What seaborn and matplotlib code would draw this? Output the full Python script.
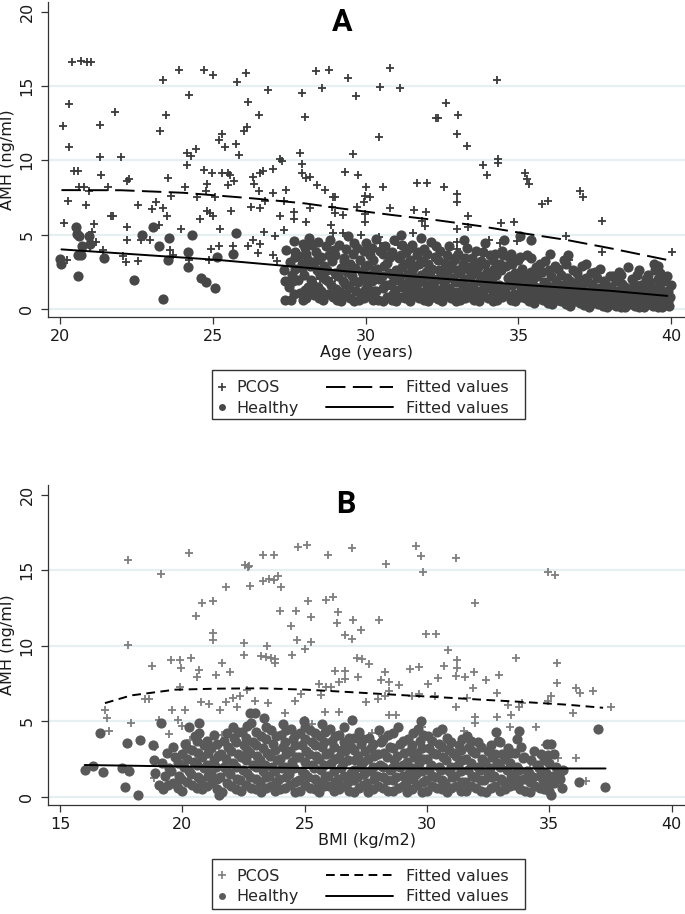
import matplotlib
matplotlib.use("Agg")
import matplotlib.pyplot as plt
from matplotlib.lines import Line2D
from matplotlib.patches import Rectangle
import seaborn as sns

sns.set_style("white")
plt.rcParams["font.family"] = ["DejaVu Sans"]

# ─── DATA: panel A (age) ─────────────────────────────────────────────────────
a_pcos = [
    (20.09, 12.33), (20.29, 10.9), (20.3, 13.8), (20.4, 16.58), (20.69, 16.7), (20.87, 16.64),
    (21.0, 16.58), (21.3, 12.36), (21.3, 10.24), (21.79, 13.27), (22.0, 10.24), (23.26, 12.0),
    (23.36, 15.42), (23.47, 13.02), (23.89, 16.04), (24.21, 14.42), (24.16, 10.49), (24.29, 10.29),
    (24.43, 10.78), (24.71, 16.04), (25.0, 15.73), (25.3, 11.78), (25.21, 11.36), (25.39, 10.89),
    (25.76, 11.11), (25.86, 10.33), (25.8, 15.29), (26.07, 15.84), (26.16, 13.93), (26.11, 12.24),
    (26.0, 11.96), (26.5, 13.02), (26.81, 14.76), (27.21, 10.1), (27.9, 14.51), (28.0, 12.89),
    (27.84, 10.49), (28.36, 16.0), (28.56, 14.84), (28.81, 16.04), (29.41, 15.51), (29.69, 14.31),
    (29.59, 10.44), (30.46, 14.91), (30.44, 11.56), (30.79, 16.2), (31.13, 14.89), (32.29, 12.82),
    (32.37, 12.82), (32.64, 13.82), (33.01, 13.02), (32.99, 11.76), (33.31, 10.93), (34.31, 15.42),
    (34.33, 10.1),
    (20.45, 9.29), (20.58, 9.29), (20.6, 8.21), (20.77, 8.21), (20.93, 7.9), (21.35, 9.02),
    (21.55, 8.21), (20.24, 7.28), (20.84, 6.99), (20.14, 5.76), (21.11, 5.71), (21.04, 5.18),
    (21.18, 4.49), (20.99, 4.15), (21.4, 3.93), (20.22, 3.3), (22.25, 8.73), (22.2, 8.57),
    (21.65, 6.27), (21.74, 6.27), (22.56, 6.99), (22.19, 5.49), (22.19, 4.6), (22.05, 3.53),
    (22.14, 3.15), (22.54, 3.19), (22.63, 4.6), (22.93, 4.64), (23.0, 6.7), (23.13, 7.21),
    (23.37, 6.76), (23.48, 6.23), (23.64, 7.57), (23.53, 8.79), (23.24, 5.65), (23.59, 3.93),
    (23.68, 3.59), (23.96, 5.36), (24.1, 8.17), (24.16, 9.67), (24.47, 7.54), (24.56, 6.05),
    (24.69, 9.33), (24.82, 8.39), (24.98, 9.17), (24.76, 7.95), (24.82, 6.61), (24.91, 6.43),
    (25.05, 7.54), (24.99, 6.23), (25.22, 5.38), (25.2, 4.26), (24.92, 4.06), (24.87, 3.26),
    (24.23, 3.26), (25.3, 9.17), (25.49, 9.17), (25.55, 9.02), (25.49, 8.33), (25.69, 8.62),
    (25.58, 6.56), (25.64, 4.26), (26.3, 8.84), (26.35, 8.39), (26.54, 9.13), (26.65, 9.29),
    (26.96, 9.4), (27.26, 9.96), (26.49, 7.9), (26.98, 7.79), (27.4, 8.01), (26.7, 7.23),
    (26.26, 6.83), (26.54, 6.79), (27.34, 7.23), (27.2, 6.23), (27.64, 6.5), (27.66, 6.03),
    (27.31, 5.31), (26.67, 5.16), (27.03, 4.91), (26.32, 4.64), (26.54, 4.33), (26.48, 3.75),
    (26.14, 4.26), (26.98, 3.64), (27.09, 3.19), (27.9, 9.78), (27.9, 9.17), (28.05, 8.79),
    (28.19, 8.84), (28.41, 8.33), (28.68, 7.99), (28.93, 7.54), (28.99, 7.5), (28.19, 6.79),
    (28.03, 5.83), (28.87, 5.67), (28.93, 5.11), (28.88, 6.83), (29.24, 6.32), (29.32, 9.22),
    (29.76, 9.0), (29.73, 6.88), (29.26, 5.09), (29.84, 5.0), (28.98, 6.43),
    (33.83, 9.69), (33.96, 9.02), (34.33, 9.84), (35.22, 9.11), (35.27, 8.73), (35.33, 8.39),
    (30.0, 8.21), (30.57, 8.17), (29.97, 7.61), (30.13, 7.54), (29.93, 7.17), (31.68, 8.5),
    (32.01, 8.5), (32.56, 8.17), (33.0, 7.72), (32.98, 7.17), (30.79, 6.76), (31.58, 6.67),
    (31.97, 6.5), (31.83, 5.94), (31.94, 5.6), (29.97, 6.38), (29.97, 5.83), (33.36, 6.27),
    (32.98, 5.38), (33.36, 5.49), (31.55, 5.09), (30.44, 4.82), (30.48, 4.44), (31.06, 4.31),
    (32.98, 4.53), (32.98, 4.04), (34.02, 4.6), (34.4, 4.42), (34.42, 5.78), (34.84, 5.87),
    (34.95, 4.55), (35.77, 7.05), (35.96, 7.28), (37.02, 7.9), (37.11, 7.5), (37.74, 5.89),
    (36.56, 4.93), (37.74, 3.82), (36.64, 3.3), (40.03, 3.82), (33.41, 2.81), (34.45, 2.92),
    (30.9, 1.36), (28.5, 2.0), (31.5, 3.0), (35.5, 1.5), (38.5, 1.0), (29.0, 2.1),
]

a_healthy = [
    (20.52, 5.49), (20.54, 5.04), (20.6, 4.87), (20.93, 4.87), (20.71, 4.22), (20.58, 3.64),
    (20.69, 3.59), (20.0, 3.37), (20.03, 2.99), (20.58, 2.21), (21.43, 3.42), (20.99, 4.37),
    (22.42, 1.96), (22.69, 5.0), (23.04, 5.49), (23.24, 4.26), (23.57, 4.78), (23.35, 0.67),
    (23.52, 3.3), (24.18, 3.82), (24.18, 2.81), (24.32, 5.0), (24.62, 2.1), (24.78, 1.81),
    (25.05, 1.43), (25.13, 3.48), (25.66, 3.71), (25.75, 5.09), (27.36, 0.58), (27.4, 3.93),
    (27.32, 2.59), (27.36, 1.88), (27.64, 4.55),
    (27.55, 0.62), (27.48, 1.45), (27.6, 2.3), (27.52, 3.15), (27.7, 3.85),
    (27.85, 1.05), (27.78, 1.92), (27.9, 2.72), (27.82, 3.55), (27.95, 4.35),
    (28.05, 0.7), (28.12, 1.5), (27.98, 2.25), (28.1, 3.3), (28.02, 4.1), (28.15, 4.75),
    (28.32, 0.9), (28.25, 1.72), (28.4, 2.6), (28.28, 3.05), (28.36, 3.82), (28.45, 4.5),
    (28.6, 0.58), (28.55, 1.22), (28.68, 2.02), (28.62, 2.88), (28.52, 3.5), (28.7, 4.2),
    (28.92, 0.82), (28.85, 1.62), (28.98, 2.4), (28.88, 3.22), (28.95, 3.98), (28.82, 4.62),
    (29.2, 0.52), (29.15, 1.12), (29.25, 1.9), (29.18, 2.78), (29.28, 3.42), (29.12, 4.3),
    (29.5, 0.7), (29.45, 1.4), (29.55, 2.2), (29.48, 3.02), (29.58, 3.7), (29.42, 4.88),
    (29.78, 0.6), (29.85, 1.02), (29.75, 1.8), (29.88, 2.5), (29.8, 3.3), (29.72, 4.1),
    (30.12, 0.88), (30.05, 1.52), (30.18, 2.3), (30.08, 2.92), (30.15, 3.6), (30.02, 4.45),
    (30.4, 0.62), (30.35, 1.2), (30.45, 2.02), (30.38, 2.7), (30.48, 3.9), (30.32, 4.7),
    (30.7, 0.8), (30.65, 1.6), (30.75, 2.42), (30.68, 3.1), (30.78, 3.5), (30.62, 4.22),
    (31.0, 0.52), (30.95, 1.3), (31.05, 1.92), (30.98, 2.6), (31.08, 3.4), (30.92, 4.6), (31.15, 5.0),
    (31.3, 0.7), (31.35, 1.02), (31.25, 1.7), (31.38, 2.32), (31.28, 3.0), (31.32, 3.8),
    (31.6, 0.9), (31.55, 1.5), (31.65, 2.1), (31.58, 2.8), (31.68, 3.6), (31.52, 4.3),
    (31.9, 0.6), (31.95, 1.22), (31.85, 2.0), (31.98, 2.5), (31.88, 3.2), (31.92, 4.0), (31.82, 4.8),
    (32.2, 0.8), (32.15, 1.4), (32.25, 1.82), (32.18, 2.7), (32.28, 3.5), (32.12, 4.5),
    (32.5, 0.52), (32.45, 1.1), (32.55, 1.6), (32.48, 2.3), (32.58, 3.1), (32.42, 3.9),
    (32.8, 0.7), (32.75, 1.3), (32.85, 2.1), (32.78, 2.9), (32.88, 3.3), (32.72, 4.2),
    (33.1, 0.6), (33.05, 1.02), (33.15, 1.7), (33.08, 2.4), (33.18, 3.0), (33.02, 3.7), (33.2, 4.6),
    (33.4, 0.8), (33.35, 1.5), (33.45, 2.2), (33.38, 2.6), (33.48, 3.4), (33.32, 4.1),
    (33.7, 0.52), (33.65, 1.2), (33.75, 1.9), (33.68, 2.8), (33.78, 3.2), (33.62, 3.9),
    (34.0, 0.7), (33.95, 1.4), (34.05, 2.0), (33.98, 2.5), (34.08, 3.6), (33.92, 4.4),
    (34.3, 0.6), (34.25, 1.1), (34.35, 1.6), (34.28, 2.3), (34.38, 3.0), (34.22, 3.7),
    (34.6, 0.9), (34.55, 1.3), (34.65, 2.1), (34.58, 2.9), (34.68, 3.5), (34.52, 4.6),
    (34.9, 0.52), (34.85, 1.02), (34.95, 1.8), (34.88, 2.4), (34.98, 3.3), (35.05, 4.9),
    (35.2, 0.7), (35.15, 1.2), (35.25, 1.7), (35.18, 2.2), (35.28, 3.6), (35.4, 4.6),
    (35.5, 0.4), (35.45, 0.9), (35.55, 1.5), (35.48, 2.0), (35.58, 2.8), (35.42, 3.4),
    (35.8, 0.6), (35.75, 1.1), (35.85, 1.8), (35.78, 2.5), (35.88, 3.2),
    (36.1, 0.3), (36.05, 0.8), (36.15, 1.4), (36.08, 2.2), (36.18, 2.9), (36.02, 3.7),
    (36.4, 0.5), (36.35, 1.02), (36.45, 1.6), (36.38, 2.3), (36.48, 3.3),
    (36.7, 0.2), (36.65, 0.7), (36.75, 1.2), (36.68, 1.9), (36.78, 2.6), (36.62, 3.6),
    (37.0, 0.4), (36.95, 0.9), (37.05, 1.5), (36.98, 2.0), (37.08, 2.9),
    (37.3, 0.12), (37.25, 0.6), (37.35, 1.1), (37.28, 1.8), (37.38, 2.4), (37.22, 3.0),
    (37.6, 0.3), (37.55, 0.8), (37.65, 1.4), (37.58, 2.1), (37.68, 2.7),
    (37.9, 0.1), (37.85, 0.5), (37.95, 1.02), (37.88, 1.6), (37.98, 2.2),
    (38.2, 0.2), (38.15, 0.7), (38.25, 1.2), (38.18, 1.9), (38.28, 2.5),
    (38.5, 0.1), (38.45, 0.4), (38.55, 0.9), (38.48, 1.5), (38.58, 2.8),
    (38.8, 0.2), (38.75, 0.6), (38.85, 1.1), (38.78, 1.7), (38.88, 2.3),
    (39.1, 0.1), (39.05, 0.5), (39.15, 0.8), (39.08, 1.4), (39.18, 2.0),
    (39.4, 0.2), (39.35, 0.6), (39.45, 1.02), (39.38, 1.5), (39.48, 2.6), (39.42, 3.0),
    (39.7, 0.1), (39.65, 0.4), (39.75, 0.9), (39.68, 1.3), (39.78, 1.9), (39.62, 2.4),
    (39.92, 0.2), (39.88, 0.5), (39.95, 0.82), (39.9, 1.2), (39.98, 1.6), (39.85, 2.2),
]

a_healthy_more = [
    (27.65, 1.0), (27.62, 1.85), (27.7, 2.7), (27.68, 3.5),
    (27.95, 0.62), (28.0, 1.3), (27.92, 3.0), (28.05, 3.7),
    (28.2, 1.1), (28.22, 1.95), (28.18, 2.9), (28.25, 4.3),
    (28.48, 0.7), (28.45, 1.5), (28.5, 2.3), (28.42, 3.3),
    (28.75, 1.0), (28.78, 1.85), (28.72, 2.6), (28.8, 3.6),
    (29.05, 0.6), (29.02, 1.35), (29.08, 2.2), (29.0, 3.6),
    (29.35, 0.9), (29.32, 1.65), (29.38, 2.5), (29.3, 3.2), (29.35, 4.0),
    (29.62, 0.55), (29.68, 1.2), (29.6, 1.9), (29.65, 2.75), (29.62, 4.4),
    (29.95, 0.75), (29.98, 1.3), (29.92, 2.1), (29.98, 2.8), (29.95, 3.9),
    (30.25, 0.6), (30.28, 1.2), (30.22, 1.9), (30.3, 2.6), (30.25, 3.3), (30.2, 4.1),
    (30.55, 0.55), (30.58, 1.4), (30.52, 2.2), (30.6, 2.9), (30.55, 3.7),
    (30.85, 0.62), (30.88, 1.0), (30.82, 1.7), (30.9, 2.2), (30.85, 3.8),
    (31.15, 0.8), (31.18, 1.5), (31.12, 2.2), (31.2, 2.8), (31.15, 3.6), (31.18, 4.3),
    (31.45, 0.55), (31.48, 1.3), (31.42, 1.9), (31.5, 2.6), (31.45, 3.3), (31.45, 4.1),
    (31.75, 0.7), (31.78, 1.1), (31.72, 1.75), (31.8, 2.3), (31.75, 3.0), (31.7, 3.8),
    (32.05, 0.55), (32.08, 1.0), (32.02, 1.6), (32.1, 2.2), (32.05, 3.0), (32.0, 3.7),
    (32.35, 0.65), (32.38, 1.25), (32.32, 2.0), (32.4, 2.6), (32.35, 3.3), (32.3, 4.2),
    (32.65, 0.9), (32.68, 1.4), (32.62, 2.0), (32.7, 2.6), (32.65, 3.6),
    (32.95, 0.52), (32.98, 1.1), (32.92, 1.8), (33.0, 2.6), (32.95, 3.5),
    (33.25, 0.7), (33.28, 1.3), (33.22, 2.0), (33.3, 2.8), (33.25, 3.4),
    (33.55, 0.6), (33.58, 1.05), (33.52, 1.7), (33.6, 2.4), (33.55, 3.0),
    (33.85, 0.9), (33.88, 1.6), (33.82, 2.2), (33.9, 3.0), (33.85, 3.8),
    (34.15, 0.55), (34.18, 1.2), (34.12, 1.8), (34.2, 2.7), (34.15, 3.3),
    (34.45, 0.8), (34.48, 1.45), (34.42, 2.6), (34.5, 3.6), (34.45, 3.9),
    (34.75, 0.6), (34.78, 1.6), (34.72, 2.2), (34.8, 3.0), (34.75, 3.7),
    (35.05, 0.8), (35.08, 1.4), (35.02, 2.0), (35.1, 2.7), (35.05, 3.5),
    (35.35, 0.55), (35.38, 1.1), (35.32, 1.9), (35.4, 2.5),
    (35.65, 0.7), (35.68, 1.4), (35.62, 2.2), (35.7, 3.0),
    (35.95, 0.4), (35.98, 1.0), (35.92, 1.6), (36.0, 2.6),
    (36.25, 0.6), (36.28, 1.2), (36.22, 1.9), (36.3, 2.7),
    (36.55, 0.35), (36.58, 0.9), (36.52, 1.45), (36.6, 2.1), (36.55, 3.0),
    (36.85, 0.5), (36.88, 1.1), (36.82, 1.7), (36.9, 2.4),
    (37.15, 0.25), (37.18, 0.8), (37.12, 1.3), (37.2, 2.1),
    (37.45, 0.4), (37.48, 1.0), (37.42, 1.6), (37.5, 2.5),
    (37.75, 0.2), (37.78, 0.65), (37.72, 1.2), (37.8, 1.9),
    (38.05, 0.35), (38.08, 0.9), (38.02, 1.5), (38.1, 2.2),
    (38.35, 0.15), (38.38, 0.6), (38.32, 1.05), (38.4, 1.7), (38.35, 2.3),
    (38.65, 0.3), (38.68, 0.8), (38.62, 1.3), (38.7, 2.0),
    (38.95, 0.15), (38.98, 0.45), (38.92, 0.95), (39.0, 1.6), (38.95, 2.6),
    (39.25, 0.3), (39.28, 0.75), (39.22, 1.2), (39.3, 1.8), (39.25, 2.3),
    (39.55, 0.15), (39.58, 0.5), (39.52, 0.85), (39.6, 1.5), (39.55, 2.0), (39.55, 2.9),
]

a_fit_pcos_x = [20.04, 22.0, 24.03, 26.32, 28.03, 29.17, 30.88, 32.31, 33.74, 35.17, 36.59, 38.02, 39.87]
a_fit_pcos_y = [7.99, 7.98, 7.81, 7.43, 7.09, 6.76, 6.31, 5.97, 5.57, 5.08, 4.63, 4.07, 3.29]
a_fit_healthy_x = [20.04, 25.17, 29.45, 32.31, 35.17, 38.02, 39.87]
a_fit_healthy_y = [4.0, 3.29, 2.51, 2.06, 1.61, 1.21, 0.87]

# ─── DATA: panel B (BMI) ─────────────────────────────────────────────────────
b_pcos = [
    (17.76, 15.7), (19.13, 14.78), (20.26, 16.15), (22.54, 15.37), (22.72, 15.3), (22.69, 15.2),
    (23.31, 15.99), (23.74, 15.99), (23.31, 14.27), (23.53, 14.43), (23.76, 14.38), (23.92, 14.6),
    (22.76, 13.96), (21.78, 13.87), (24.01, 13.87), (24.74, 16.56), (25.08, 16.67), (25.94, 15.99),
    (26.94, 16.48), (28.33, 15.44), (29.56, 16.59), (29.74, 15.97), (29.85, 14.87), (31.17, 15.81),
    (31.95, 12.84), (34.93, 14.87), (35.23, 14.71), (20.8, 12.8), (21.24, 12.95), (25.15, 12.97),
    (25.85, 13.0), (26.15, 13.24),
    (20.55, 11.95), (24.0, 12.28), (24.65, 12.32), (25.27, 11.9), (24.44, 11.28), (26.36, 12.21),
    (26.3, 11.5), (26.96, 11.73), (26.64, 10.73), (26.94, 10.44), (27.32, 11.06), (24.69, 10.4),
    (25.03, 9.78), (25.27, 10.22), (21.23, 10.84), (21.24, 10.35), (22.5, 10.18), (22.5, 9.36),
    (23.46, 10.0), (23.2, 9.29), (23.4, 9.25), (23.6, 9.18), (23.8, 9.11), (23.8, 8.85),
    (24.48, 9.4), (17.77, 10.07), (18.75, 8.69), (19.54, 9.03), (19.88, 9.03), (20.36, 9.18),
    (19.95, 8.52), (20.69, 8.41), (20.59, 7.96), (21.37, 8.08), (21.62, 8.89), (21.96, 8.23),
    (19.88, 7.3), (18.48, 6.46), (18.62, 6.46), (16.84, 5.75), (16.91, 5.2), (17.0, 4.36),
    (17.91, 4.91), (19.02, 5.09), (19.57, 5.75), (20.09, 5.75), (19.82, 5.09), (19.98, 4.71),
    (19.43, 4.16), (20.77, 6.26), (21.07, 6.15), (21.55, 5.75), (21.78, 6.26), (22.07, 6.57),
    (22.37, 6.64), (22.23, 5.93), (22.98, 6.31), (23.5, 6.24), (22.64, 7.04), (20.29, 3.76),
    (20.66, 3.72), (21.37, 3.58), (21.48, 2.99), (21.62, 4.09), (24.21, 5.53), (25.0, 5.09),
    (25.3, 4.8), (24.86, 6.81), (24.62, 6.31), (25.6, 7.48), (25.87, 7.3), (26.09, 7.3),
    (25.68, 6.75), (25.82, 5.64), (26.39, 5.64), (26.25, 8.3), (26.66, 8.36), (26.39, 7.57),
    (26.66, 7.79), (27.18, 7.92), (27.14, 9.18), (27.35, 9.11), (18.89, 3.32), (18.82, 1.22),
    (27.32, 1.15),
    (28.02, 11.73), (29.96, 10.8), (30.37, 10.8), (30.85, 9.73), (27.61, 8.81), (28.29, 8.25),
    (29.3, 8.45), (29.66, 8.58), (30.71, 8.67), (31.22, 9.03), (31.22, 8.52), (31.19, 8.01),
    (31.57, 7.96), (31.94, 8.23), (32.42, 7.7), (32.94, 8.08), (33.65, 9.18), (35.31, 8.85),
    (35.31, 7.52), (28.11, 7.74), (28.43, 7.57), (28.84, 7.37), (30.03, 7.46), (30.44, 7.85),
    (31.87, 7.21), (28.43, 6.97), (27.5, 6.26), (27.98, 6.46), (28.29, 6.64), (29.39, 6.68),
    (29.66, 6.81), (30.34, 6.7), (31.63, 6.53), (31.19, 5.91), (32.86, 6.9), (33.31, 6.08),
    (33.76, 5.97), (33.89, 6.19), (34.95, 6.31), (35.05, 6.68), (36.08, 7.23), (36.24, 6.86),
    (36.79, 6.97), (35.97, 5.53), (37.54, 5.91), (28.46, 5.38), (28.73, 5.38), (31.98, 5.31),
    (31.98, 4.87), (32.86, 5.31), (33.44, 5.42), (33.4, 4.6), (34.47, 4.6), (31.53, 4.38),
    (27.77, 4.25), (28.05, 4.2), (29.8, 4.65), (34.81, 3.43), (33.17, 3.05), (35.36, 2.59),
    (36.08, 2.59), (36.49, 1.04), (34.22, 1.92), (30.85, 3.58),
]

b_healthy = [
    (16.02, 1.77), (16.36, 2.04), (16.73, 1.66), (16.64, 4.2), (17.52, 1.88), (17.8, 1.7),
    (17.73, 3.58), (18.27, 3.76), (18.78, 3.43), (19.13, 4.91), (17.66, 0.62), (18.18, 0.11),
    (21.48, 0.11), (20.25, 4.65), (20.69, 4.91), (20.69, 4.25), (36.99, 4.47), (37.27, 0.66),
    (36.22, 1.0), (35.08, 0.11), (35.08, 3.5), (34.95, 2.77), (35.4, 1.44), (33.76, 4.38),
    (33.92, 2.54), (22.78, 5.53), (22.95, 5.53), (29.75, 5.0), (18.82, 2.43), (18.89, 1.55),
    (19.02, 0.77),
    (19.2, 0.5), (19.3, 1.4), (19.15, 2.2), (19.35, 2.9),
    (19.6, 0.9), (19.55, 1.7), (19.7, 2.6), (19.62, 3.3),
    (20.0, 0.4), (19.95, 1.2), (20.08, 2.0), (19.98, 2.8), (20.1, 3.5),
    (20.4, 0.8), (20.35, 1.5), (20.48, 2.3), (20.38, 3.1), (20.5, 4.0),
    (20.8, 0.5), (20.75, 1.1), (20.88, 1.9), (20.78, 2.6), (20.9, 3.4),
    (21.2, 0.9), (21.15, 1.6), (21.28, 2.4), (21.18, 3.2), (21.3, 4.1),
    (21.6, 0.3), (21.55, 1.3), (21.68, 2.0), (21.58, 2.8), (21.7, 3.7),
    (22.0, 0.7), (21.95, 1.5), (22.08, 2.2), (21.98, 3.0), (22.1, 3.9), (22.05, 4.6),
    (22.4, 0.4), (22.35, 1.1), (22.48, 1.8), (22.38, 2.6), (22.5, 3.4), (22.42, 4.3),
    (22.8, 0.6), (22.75, 1.3), (22.88, 2.1), (22.78, 2.9), (22.9, 3.6), (22.82, 4.9),
    (23.2, 0.3), (23.15, 1.0), (23.28, 1.7), (23.18, 2.4), (23.3, 3.2), (23.22, 4.0), (23.35, 5.2),
    (23.6, 0.7), (23.55, 1.4), (23.68, 2.0), (23.58, 2.7), (23.7, 3.5), (23.62, 4.4),
    (24.0, 0.5), (23.95, 1.2), (24.08, 1.9), (23.98, 2.5), (24.1, 3.3), (24.02, 4.1), (24.12, 4.8),
    (24.4, 0.8), (24.35, 1.5), (24.48, 2.3), (24.38, 3.0), (24.5, 3.8), (24.42, 4.5),
    (24.8, 0.4), (24.75, 1.1), (24.88, 1.7), (24.78, 2.6), (24.9, 3.4), (24.82, 4.2), (24.95, 5.0),
    (25.2, 0.6), (25.15, 1.3), (25.28, 2.1), (25.18, 2.8), (25.3, 3.6), (25.22, 4.4),
    (25.6, 0.3), (25.55, 1.0), (25.68, 1.8), (25.58, 2.5), (25.7, 3.3), (25.62, 4.0), (25.72, 4.8),
    (26.0, 0.7), (25.95, 1.4), (26.08, 2.2), (25.98, 2.9), (26.1, 3.7), (26.02, 4.5),
    (26.4, 0.5), (26.35, 1.2), (26.48, 1.9), (26.38, 2.6), (26.5, 3.1), (26.42, 4.1),
    (26.8, 0.4), (26.75, 1.0), (26.88, 1.6), (26.78, 2.4), (26.9, 3.3), (26.82, 3.9), (26.95, 5.1),
    (27.2, 0.6), (27.15, 1.3), (27.28, 2.0), (27.18, 2.7), (27.3, 3.5), (27.22, 4.3),
    (27.6, 0.3), (27.55, 0.9), (27.68, 1.7), (27.58, 2.5), (27.7, 3.2), (27.62, 3.9),
    (28.0, 0.7), (27.95, 1.4), (28.08, 2.1), (27.98, 2.8), (28.1, 3.6), (28.02, 4.4),
    (28.4, 0.4), (28.35, 1.1), (28.48, 1.8), (28.38, 2.6), (28.5, 3.3), (28.42, 4.1),
    (28.8, 0.6), (28.75, 1.3), (28.88, 2.0), (28.78, 2.7), (28.9, 3.5), (28.82, 4.6),
    (29.2, 0.3), (29.15, 1.0), (29.28, 1.6), (29.18, 2.3), (29.3, 3.0), (29.22, 3.8),
    (29.6, 0.8), (29.55, 1.5), (29.68, 2.2), (29.58, 2.9), (29.7, 3.7), (29.62, 4.5),
    (30.0, 0.4), (29.95, 1.1), (30.08, 1.8), (29.98, 2.5), (30.1, 3.2), (30.02, 4.0),
    (30.4, 0.6), (30.35, 1.3), (30.48, 2.0), (30.38, 2.8), (30.5, 3.5), (30.42, 4.3),
    (30.8, 0.3), (30.75, 0.9), (30.88, 1.7), (30.78, 2.4), (30.9, 3.1), (30.82, 3.9),
    (31.2, 0.7), (31.15, 1.4), (31.28, 2.1), (31.18, 2.7), (31.3, 3.4),
    (31.6, 0.4), (31.55, 1.0), (31.68, 1.8), (31.58, 2.5), (31.7, 3.3), (31.62, 4.0),
    (32.0, 0.6), (31.95, 1.3), (32.08, 2.0), (31.98, 2.9), (32.1, 3.6),
    (32.4, 0.3), (32.35, 1.1), (32.48, 1.6), (32.38, 2.3), (32.5, 3.0),
    (32.8, 0.7), (32.75, 1.4), (32.88, 2.2), (32.78, 2.8), (32.9, 3.7), (32.82, 4.3),
    (33.2, 0.5), (33.15, 1.0), (33.28, 1.8), (33.18, 2.5), (33.3, 3.2),
    (33.6, 0.8), (33.55, 1.5), (33.68, 2.0), (33.58, 2.9), (33.7, 3.8),
    (34.0, 0.4), (33.95, 1.2), (34.08, 1.7), (33.98, 2.6),
    (34.4, 0.7), (34.35, 1.3), (34.48, 2.1), (34.38, 3.0),
    (34.8, 0.5), (34.75, 1.1), (34.88, 1.6), (34.78, 2.4), (34.9, 3.5),
    (35.2, 0.9), (35.15, 1.4), (35.28, 2.0), (35.18, 2.8),
    (35.5, 0.6), (35.45, 1.2), (35.58, 1.8),
]

b_healthy_more = [
    (19.4, 0.8), (19.45, 1.9), (19.8, 0.6), (19.85, 1.4), (19.8, 2.2), (20.2, 1.0), (20.25, 1.7),
    (20.2, 2.5), (20.2, 3.2), (20.6, 0.6), (20.65, 1.3), (20.6, 2.1), (20.62, 2.9), (20.6, 3.7),
    (21.0, 0.7), (21.05, 1.4), (21.0, 2.1), (21.05, 2.9), (21.0, 3.7),
    (21.4, 0.5), (21.42, 1.2), (21.38, 2.0), (21.45, 2.7), (21.4, 3.5),
    (21.8, 0.9), (21.82, 1.7), (21.78, 2.5), (21.85, 3.3), (21.8, 4.2),
    (22.2, 0.5), (22.22, 1.2), (22.18, 1.95), (22.25, 2.8), (22.2, 3.6), (22.25, 4.3),
    (22.6, 0.8), (22.62, 1.6), (22.58, 2.4), (22.65, 3.1), (22.6, 3.9), (22.65, 4.7),
    (23.0, 0.5), (23.02, 1.2), (23.0, 1.95), (23.05, 2.7), (23.0, 3.4), (23.0, 4.3),
    (23.4, 0.6), (23.42, 1.3), (23.38, 2.1), (23.45, 2.9), (23.4, 3.8), (23.42, 4.6),
    (23.8, 0.4), (23.82, 1.0), (23.78, 1.7), (23.85, 2.4), (23.8, 3.1), (23.82, 4.0),
    (24.2, 0.6), (24.22, 1.3), (24.18, 2.0), (24.25, 2.8), (24.2, 3.6), (24.22, 4.4),
    (24.6, 0.3), (24.62, 1.0), (24.58, 1.9), (24.65, 2.6), (24.6, 3.4), (24.62, 4.1),
    (25.0, 0.8), (25.02, 1.5), (25.0, 2.3), (25.05, 3.0), (25.0, 3.8), (25.02, 4.6),
    (25.4, 0.5), (25.42, 1.2), (25.38, 1.9), (25.45, 2.7), (25.4, 3.4), (25.42, 4.2),
    (25.8, 0.7), (25.82, 1.3), (25.78, 2.1), (25.85, 2.8), (25.8, 3.6), (25.82, 4.3),
    (26.2, 0.4), (26.22, 1.0), (26.18, 1.7), (26.25, 2.5), (26.2, 3.3), (26.22, 4.0),
    (26.6, 0.7), (26.62, 1.4), (26.58, 2.2), (26.65, 3.0), (26.6, 3.6), (26.62, 4.6),
    (27.0, 0.3), (27.02, 1.1), (27.0, 1.8), (27.05, 2.4), (27.0, 3.1), (27.02, 3.9),
    (27.4, 0.8), (27.42, 1.5), (27.38, 2.3), (27.45, 3.0), (27.4, 3.8),
    (27.8, 0.5), (27.82, 1.2), (27.78, 2.0), (27.85, 2.7), (27.8, 3.5),
    (28.2, 0.6), (28.22, 1.3), (28.18, 2.0), (28.25, 2.9), (28.2, 3.8),
    (28.6, 0.4), (28.62, 1.1), (28.58, 1.9), (28.65, 2.4), (28.6, 3.2), (28.62, 4.2),
    (29.0, 0.7), (29.02, 1.4), (29.0, 2.1), (29.05, 2.9), (29.0, 3.7),
    (29.4, 0.5), (29.42, 1.2), (29.38, 1.9), (29.45, 2.6), (29.4, 3.4), (29.42, 4.2),
    (29.8, 0.3), (29.82, 1.0), (29.78, 1.7), (29.85, 2.5), (29.8, 3.2), (29.82, 4.1),
    (30.2, 0.7), (30.22, 1.4), (30.18, 2.1), (30.25, 2.9), (30.2, 3.7),
    (30.6, 0.5), (30.62, 1.1), (30.58, 1.8), (30.65, 2.6), (30.6, 3.3), (30.62, 4.5),
    (31.0, 0.6), (31.02, 1.3), (31.0, 2.0), (31.05, 2.9), (31.0, 3.6),
    (31.4, 0.4), (31.42, 1.0), (31.38, 1.7), (31.45, 2.4), (31.4, 3.1), (31.42, 3.8),
    (31.8, 0.7), (31.82, 1.4), (31.78, 2.2), (31.85, 3.0), (31.8, 3.7),
    (32.2, 0.4), (32.22, 1.1), (32.18, 1.8), (32.25, 2.5), (32.2, 3.3),
    (32.6, 0.6), (32.62, 1.3), (32.58, 1.9), (32.65, 2.6), (32.6, 3.4),
    (33.0, 0.4), (33.02, 1.2), (33.0, 2.0), (33.05, 2.8), (33.0, 3.6),
    (33.4, 0.7), (33.42, 1.3), (33.38, 2.2), (33.45, 2.9),
    (33.8, 0.5), (33.82, 1.1), (33.78, 1.8), (33.85, 3.3),
    (34.2, 0.3), (34.22, 1.0), (34.18, 1.6), (34.25, 2.4),
    (34.6, 0.6), (34.62, 1.4), (34.58, 1.9), (34.65, 2.8),
    (35.0, 0.4), (35.02, 1.0), (35.0, 2.2),
]

b_fit_pcos_x = [16.83, 17.9, 19.69, 21.48, 23.27, 25.05, 26.84, 28.63, 30.41, 32.2, 33.99, 35.77, 37.2]
b_fit_pcos_y = [6.2, 6.71, 7.09, 7.16, 7.18, 7.09, 6.93, 6.76, 6.6, 6.43, 6.27, 6.09, 5.89]
b_fit_healthy_x = [16.0, 20.0, 25.0, 30.0, 35.0, 37.3]
b_fit_healthy_y = [2.1, 2.0, 1.9, 1.87, 1.87, 1.87]

y_ticks = [0, 5, 10, 15, 20]
a_x_ticks = [20, 25, 30, 35, 40]
b_x_ticks = [15, 20, 25, 30, 35, 40]

# ─── FIGURE ──────────────────────────────────────────────────────────────────
W, H = 685, 914
FS = 11.5
fig = plt.figure(figsize=(W / 100, H / 100), dpi=100, facecolor="white")

def px_axes(x0, y0, x1, y1):
    return fig.add_axes([x0 / W, 1 - y1 / H, (x1 - x0) / W, (y1 - y0) / H])

ax_a = px_axes(48, 2, 685, 317)
ax_b = px_axes(48, 485, 685, 805)


def draw_panel(ax, pcos, healthy, fit_p, fit_h, pcos_color, healthy_color,
               dash, xlim, xticks, xlabel, title, title_xy, box_y, rows_y, ax_px):
    # grid lines (not at the top tick)
    for yv in y_ticks[:-1]:
        ax.axhline(yv, color="#e6eff2", lw=1.6, zorder=0)

    sns.scatterplot(x=[p[0] for p in pcos], y=[p[1] for p in pcos], ax=ax,
                    marker="+", s=40, color=pcos_color, linewidth=1.3, zorder=2)
    sns.scatterplot(x=[p[0] for p in healthy], y=[p[1] for p in healthy], ax=ax,
                    marker="o", s=54, color=healthy_color, linewidth=0, zorder=3)
    sns.lineplot(x=fit_p[0], y=fit_p[1], ax=ax, color="black", lw=1.4,
                 linestyle=(0, dash), errorbar=None, zorder=4)
    sns.lineplot(x=fit_h[0], y=fit_h[1], ax=ax, color="black", lw=1.4,
                 errorbar=None, zorder=4)

    ax.set_xlim(*xlim)
    ax.set_ylim(-0.55, 20.65)
    ax.set_xticks(xticks)
    ax.set_yticks(y_ticks)
    ax.grid(False)
    for side in ["top", "right"]:
        ax.spines[side].set_visible(False)
    for side in ["left", "bottom"]:
        ax.spines[side].set_color("#333333")
        ax.spines[side].set_linewidth(0.9)
    ax.tick_params(axis="both", direction="out", length=4.8, width=0.9,
                   color="#333333", labelsize=FS, labelcolor="#1a1a1a", pad=4,
                   left=True, bottom=True)
    ax.tick_params(axis="y", labelrotation=90, pad=5)
    for lab in ax.get_yticklabels():
        lab.set_va("center")

    ax.set_ylabel("AMH (ng/ml)", fontsize=FS, color="#1a1a1a")
    ax.yaxis.set_label_coords(-0.052, 0.5)
    ax.set_xlabel(xlabel, fontsize=FS, color="#1a1a1a", va="top")
    ax.xaxis.set_label_coords(0.5, -0.088)

    ax.text(title_xy[0], title_xy[1], title, transform=ax.transAxes,
            ha="center", va="center", fontsize=22, fontweight="bold",
            family=["Roboto", "DejaVu Sans"], color="black")

    # legend: markers column and lines column inside one box
    h_pcos = Line2D([], [], ls="none", marker="+", ms=6, mew=1.2, color=pcos_color)
    h_healthy = Line2D([], [], ls="none", marker="o", ms=5, mec="none", color=healthy_color)
    h_fit_p = Line2D([], [], color="black", lw=1.4, linestyle=(0, dash))
    h_fit_h = Line2D([], [], color="black", lw=1.4)

    top, bottom = box_y
    ax_top_px, ax_bottom_px = ax_px
    yc = (ax_bottom_px - sum(rows_y) / 2) / (ax_bottom_px - ax_top_px)

    common = dict(frameon=False, fontsize=FS, borderpad=0, borderaxespad=0,
                  labelspacing=0.33, loc="center left")
    leg1 = ax.legend([h_pcos, h_healthy], ["PCOS", "Healthy"],
                     bbox_to_anchor=((213.7 - 48) / 637, yc),
                     handlelength=1.0, handletextpad=0.44, **common)
    ax.add_artist(leg1)
    ax.legend([h_fit_p, h_fit_h], ["Fitted values", "Fitted values"],
              bbox_to_anchor=((326 - 48) / 637, yc),
              handlelength=4.2, handletextpad=0.84, **common)

    fig.add_artist(Rectangle((211.7 / W, 1 - bottom / H), (525 - 211.7) / W,
                             (bottom - top) / H, transform=fig.transFigure,
                             fill=False, edgecolor="#333333", lw=1.0))


draw_panel(ax_a, a_pcos, a_healthy + a_healthy_more, (a_fit_pcos_x, a_fit_pcos_y),
           (a_fit_healthy_x, a_fit_healthy_y), "#3a3a3a", "#474747",
           (10, 3.8), (19.6, 40.45), a_x_ticks, "Age (years)", "A",
           (0.461, 0.935), (369.7, 418.5), (387.3, 408.7), (2, 317))

draw_panel(ax_b, b_pcos, b_healthy + b_healthy_more, (b_fit_pcos_x, b_fit_pcos_y),
           (b_fit_healthy_x, b_fit_healthy_y), "#7e7e7e", "#5a5a5a",
           (4.5, 2.8), (14.5, 40.55), b_x_ticks, "BMI (kg/m2)", "B",
           (0.468, 0.94), (858.5, 909), (875, 898.3), (485, 805))

fig.savefig("out.png", dpi=100, facecolor="white")
